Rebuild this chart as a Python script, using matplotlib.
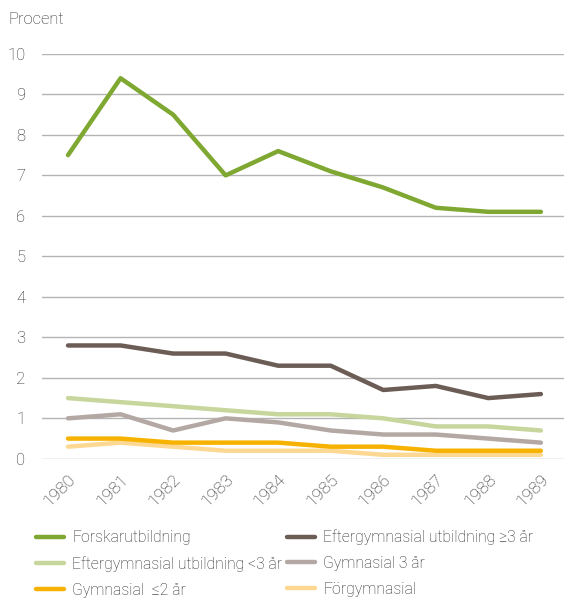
import matplotlib.pyplot as plt
from matplotlib.lines import Line2D

years = [1980, 1981, 1982, 1983, 1984, 1985, 1986, 1987, 1988, 1989]

forskar = [7.5, 9.4, 8.5, 7.0, 7.6, 7.1, 6.7, 6.2, 6.1, 6.1]
efter_lang = [2.8, 2.8, 2.6, 2.6, 2.3, 2.3, 1.7, 1.8, 1.5, 1.6]
efter_kort = [1.5, 1.4, 1.3, 1.2, 1.1, 1.1, 1.0, 0.8, 0.8, 0.7]
gymn_3 = [1.0, 1.1, 0.7, 1.0, 0.9, 0.7, 0.6, 0.6, 0.5, 0.4]
gymn_2 = [0.5, 0.5, 0.4, 0.4, 0.4, 0.3, 0.3, 0.2, 0.2, 0.2]
forgymn = [0.3, 0.4, 0.3, 0.2, 0.2, 0.2, 0.1, 0.1, 0.1, 0.1]

labels = ['Forskarutbildning', 'Eftergymnasial utbildning \u22653 år',
          'Eftergymnasial utbildning <3 år', 'Gymnasial 3 år',
          'Gymnasial  \u22642 år', 'Förgymnasial']
colors = ['#7fa832', '#6b5c55', '#c6d69c', '#b3a8a3', '#f7b200', '#fdd892']

plt.rcParams['font.family'] = ['Roboto', 'DejaVu Sans']
plt.rcParams['font.weight'] = 'light'
txt = '#2a2a2a'

fig = plt.figure(figsize=(5.64, 5.99), dpi=100)
ax = fig.add_axes([0.0745, 0.234, 0.9255, 0.676])

series = [forskar, efter_lang, efter_kort, gymn_3, gymn_2, forgymn]
for s, c, z in zip(series, colors, [6, 5, 4, 3, 2, 1]):
    ax.plot(years, s, color=c, lw=3.2, solid_capstyle='round',
            solid_joinstyle='round', zorder=z + 2)

ax.set_xlim(1979.505, 1989.44)
ax.set_ylim(0, 10)
ax.set_yticks(range(0, 11))
ax.set_xticks(years)
ax.grid(axis='y', color='#b4b4b4', lw=1)
ax.set_axisbelow(True)
for sp in ax.spines.values():
    sp.set_visible(False)
ax.tick_params(length=0, labelsize=12, labelcolor=txt, pad=9)
ax.tick_params(axis='x', labelsize=12.5)
ax.tick_params(axis='y', pad=12)
for t in ax.get_xticklabels():
    t.set_rotation(45)
    t.set_ha('right')
    t.set_rotation_mode('anchor')

fig.text(8 / 564, 1 - 19 / 599, 'Procent', fontsize=12, color=txt,
         va='center', ha='left')

# legenden fylls kolumnvis, så ordna om för radvis läsning
order = [0, 2, 4, 1, 3, 5]
handles = [Line2D([0], [0], color=colors[i], lw=3.2, solid_capstyle='round') for i in order]
leg = fig.legend(handles, [labels[i] for i in order], loc='upper left', ncol=2,
                 bbox_to_anchor=(30 / 564, 1 - 523 / 599), frameon=False,
                 fontsize=11.3, handlelength=1.75, handletextpad=0.55,
                 columnspacing=0.3, labelspacing=0.7, borderaxespad=0)
for t in leg.get_texts():
    t.set_color(txt)

fig.savefig('out.png', dpi=100)
